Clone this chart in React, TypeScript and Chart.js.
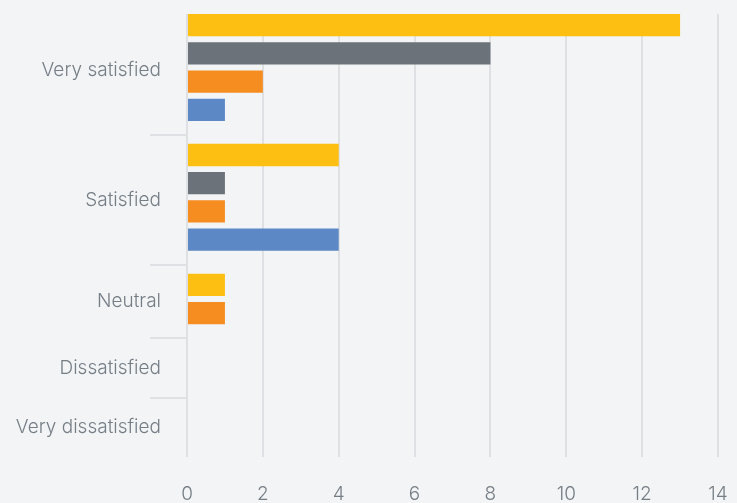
import React, { useEffect, useRef } from "react";
import { Chart, registerables } from "chart.js";

Chart.register(...registerables);

// ---- data ----
const categories = ["Very satisfied", "Satisfied", "Neutral", "Dissatisfied", "Very dissatisfied"];
const seriesNames = ["Series A", "Series B", "Series C", "Series D"];
const seriesA = [13, 4, 1, null, null];
const seriesB = [8, 1, null, null, null];
const seriesC = [2, 1, 1, null, null];
const seriesD = [1, 4, null, null, null];
const seriesColors = ["#fcbf12", "#6b727a", "#f68d21", "#5c88c6"];
const xTickStep = 2;
const xMax = 14;

const allSeries = [seriesA, seriesB, seriesC, seriesD];

// ---- layout model: each category band only holds its non-empty bars ----
const PAD_TOP = 0.2;
const PAD_BOTTOM = 0.4;
const EMPTY_BAND = 2.1;
const BAR_PCT = 0.79;

function buildLayout() {
  let cursor = 0;
  const separators: number[] = [];
  const centers: number[] = [];
  const points: { x: number; y: number }[][] = allSeries.map(() => []);
  categories.forEach((_, ci) => {
    const present = allSeries
      .map((s, si) => ({ si, v: s[ci] }))
      .filter((d) => d.v !== null && d.v !== undefined);
    const band = present.length > 0 ? present.length + PAD_TOP + PAD_BOTTOM : EMPTY_BAND;
    present.forEach((d, slot) => {
      points[d.si].push({ x: d.v as number, y: cursor + PAD_TOP + slot + 0.5 });
    });
    centers.push(cursor + band / 2);
    cursor += band;
    if (ci < categories.length - 1) separators.push(cursor);
  });
  const axisMin = PAD_TOP + 0.5 - BAR_PCT / 2;
  return { separators, centers, points, total: cursor, axisMin };
}

export default function App() {
  const ref = useRef<HTMLCanvasElement | null>(null);

  useEffect(() => {
    document.body.style.margin = "0";
    document.body.style.background = "#f2f4f6";
    const { separators, centers, points, total, axisMin } = buildLayout();
    const isSep = (v: number) => separators.some((s) => Math.abs(s - v) < 1e-6);
    const labelFor = (v: number) => {
      const i = centers.findIndex((c) => Math.abs(c - v) < 1e-6);
      return i >= 0 ? categories[i] : "";
    };
    const font = { family: "Inter, 'Liberation Sans', Arial, sans-serif", size: 19, weight: 300 };
    const textColor = "#767e85";
    const gridColor = "#dee0e3";

    const chart = new Chart(ref.current as HTMLCanvasElement, {
      type: "bar",
      data: {
        datasets: allSeries.map((_, k) => ({
          label: seriesNames[k],
          data: points[k],
          backgroundColor: seriesColors[k],
          borderWidth: 0,
          grouped: false,
          barPercentage: BAR_PCT,
          categoryPercentage: 1,
        })),
      },
      options: {
        indexAxis: "y",
        animation: false,
        responsive: false,
        layout: { padding: { top: 14, right: 0, left: 0, bottom: 0 } },
        plugins: { legend: { display: false }, tooltip: { enabled: false } },
        scales: {
          x: {
            type: "linear",
            position: "bottom",
            min: 0,
            max: xMax,
            offset: false,
            ticks: { stepSize: xTickStep, color: textColor, font, padding: 26 },
            grid: { color: gridColor, lineWidth: 2, drawTicks: false, offset: false },
            border: { display: false },
            afterFit: (s: any) => {
              s.height = 46;
              s.paddingLeft = 0;
              s.paddingRight = 19;
            },
          },
          y: {
            type: "linear",
            reverse: true,
            offset: false,
            min: axisMin,
            max: total,
            afterBuildTicks: (s: any) => {
              s.ticks = [...separators, ...centers].sort((a, b) => a - b).map((v) => ({ value: v }));
            },
            afterFit: (s: any) => {
              s.width = 187;
            },
            ticks: {
              autoSkip: false,
              color: textColor,
              font,
              padding: -11,
              callback: (v: any) => labelFor(Number(v)),
            },
            grid: {
              offset: false,
              drawOnChartArea: false,
              tickLength: 37,
              lineWidth: 2,
              tickColor: (ctx: any) => (ctx.tick && isSep(ctx.tick.value) ? gridColor : "rgba(0,0,0,0)"),
            },
            border: { display: false },
          },
        },
      } as any,
    });
    return () => chart.destroy();
  }, []);

  return (
    <div style={{ width: 737, height: 503, background: "#f2f4f6" }}>
      <canvas ref={ref} width={737} height={503} style={{ display: "block" }} />
    </div>
  );
}
